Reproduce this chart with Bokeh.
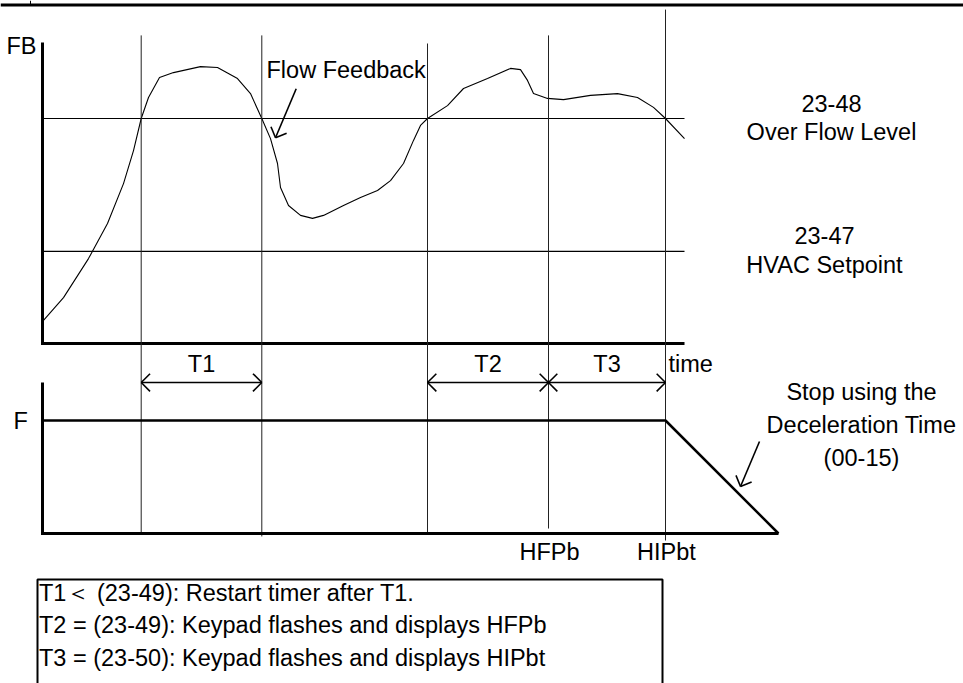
import math
from bokeh.plotting import figure
from bokeh.models import Range1d
from bokeh.core.properties import value
from bokeh.embed import file_html
from bokeh.resources import INLINE

# ---------------- data ----------------
# Flow feedback curve: time (arbitrary units) and FB (% of scale)
fb_time = [0.1, 2.1, 4.6, 6.5, 8.1, 9.1, 9.87, 10.6, 11.7, 13.1,
           15.8, 17.5, 19.5, 20.8, 21.93, 22.8, 23.5, 23.8, 24.6, 25.8,
           27.0, 28.1, 30.1, 31.8, 33.5, 34.8, 36.1, 37.1, 37.8, 38.5,
           40.5, 42.1, 44.5, 46.8, 47.8, 48.5, 49.1, 50.5, 52.1, 54.8,
           57.5, 59.5, 61.1, 62.3, 64.2]
fb_value = [7.7, 15.3, 28.3, 40.0, 53.3, 64.3, 75.0, 82.0, 88.7, 90.3,
            92.3, 92.0, 88.3, 83.3, 75.0, 68.3, 60.0, 52.0, 46.0, 42.7,
            41.7, 42.7, 46.0, 48.7, 51.0, 54.3, 60.0, 67.7, 72.7, 75.0,
            79.3, 85.0, 88.3, 91.7, 91.3, 87.7, 83.3, 81.7, 81.3, 82.7,
            83.3, 82.0, 78.7, 75.0, 68.3]

# event times: T1 start, T1 end, T2 start, HFPb, HIPbt
event_time = [9.87, 21.93, 38.5, 50.6, 62.3]
event_top_fb = [102.7, 102.7, 100.0, 102.7, 111.3]
event_bottom_f = [0.0, -2.6, 0.0, 4.4, -6.2]
stop_time = 73.6          # output reaches zero
time_axis_end = 64.2      # end of FB time axis
fb_axis_top = 100.3

over_flow_level = 75.0    # 23-48
hvac_setpoint = 30.7      # 23-47
level_labels = [("23-48", "Over Flow Level"), ("23-47", "HVAC Setpoint")]

f_run = 100.0             # output frequency F
f_axis_top = 133.6

timer_names = ["T1", "T2", "T3"]
timer_start = [0, 2, 3]   # indices into event_time
timer_end = [1, 3, 4]

marker_names = ["HFPb", "HIPbt"]
marker_event = [3, 4]

note_lines = ["T1\uff1c (23-49): Restart timer after T1.",
              "T2 = (23-49): Keypad flashes and displays HFPb",
              "T3 = (23-50): Keypad flashes and displays HIPbt"]
stop_lines = ["Stop using the", "Deceleration Time", "(00-15)"]

# ---------------- layout (picture pixels) ----------------
W, H = 963, 683
M = 0
X0, PXT = 42.0, 10.0          # time origin px, px per time unit
TY0, PXFB = 343.0, 3.0        # FB zero px, px per FB unit
BY0, PXF = 533.0, 1.13        # F zero px, px per F unit

def px_t(px): return (px - X0) / PXT
def t_px(t): return X0 + PXT * t
def py_fb(py): return (TY0 - py) / PXFB
def fb_py(v): return TY0 - PXFB * v
def f_py(v): return BY0 - PXF * v
def py_f(py): return (BY0 - py) / PXF

p = figure(width=W, height=H, output_backend="svg", toolbar_location=None,
           x_axis_type=None, y_axis_type=None,
           x_range=Range1d(px_t(M), px_t(M + W)),
           y_range=Range1d(py_fb(M + H), py_fb(M)),
           min_border=0, outline_line_color=None,
           background_fill_color="white", border_fill_color="white")
p.extra_y_ranges = {"freq": Range1d(py_f(M + H), py_f(M))}

FONT = value("Liberation Sans")
FS = "23.5px"

# header rule and its small tick
p.line([px_t(0), px_t(W)], [py_fb(4.5)] * 2, line_width=3, color="black")
p.line([px_t(30), px_t(30)], [py_fb(0), py_fb(4.5)], line_width=1, color="black")

# ---- top panel ----
p.line([0, 0], [py_fb(fb_py(0) + 1.5), fb_axis_top], line_width=3, color="black")
p.line([0, time_axis_end], [0, 0], line_width=3, color="black")
for lvl in (over_flow_level, hvac_setpoint):
    p.line([0, time_axis_end], [lvl, lvl], line_width=1.2, color="black")
p.line(fb_time, fb_value, line_width=1.1, color="black")

# event lines spanning both panels
for t, top, bot in zip(event_time, event_top_fb, event_bottom_f):
    p.line([t, t], [top, py_fb(f_py(bot))], line_width=1, color="#222222")

# ---- bottom panel ----
p.line([0, 0], [f_axis_top, py_f(BY0 + 1.5)], line_width=3, color="black", y_range_name="freq")
p.line([0, stop_time], [0, 0], line_width=3, color="black", y_range_name="freq")
p.line([0, event_time[4], stop_time], [f_run, f_run, 0], line_width=2.5,
       color="black", y_range_name="freq")

# helper for open arrow heads (computed in pixel space, drawn in FB space)
def head(tip, tail, length=12.5, ang=45):
    dx, dy = tail[0] - tip[0], tail[1] - tip[1]
    n = math.hypot(dx, dy)
    ux, uy = dx / n, dy / n
    xs, ys = [], []
    for s in (1, -1):
        a = math.radians(ang * s)
        rx = ux * math.cos(a) - uy * math.sin(a)
        ry = ux * math.sin(a) + uy * math.cos(a)
        xs.append([px_t(tip[0] + length * rx), px_t(tip[0])])
        ys.append([py_fb(tip[1] + length * ry), py_fb(tip[1])])
    return xs, ys

arrow_py = f_py(f_axis_top)
for name, i0, i1 in zip(timer_names, timer_start, timer_end):
    a, b = t_px(event_time[i0]), t_px(event_time[i1])
    p.line([event_time[i0], event_time[i1]], [py_fb(arrow_py)] * 2, line_width=1.6, color="black")
    for tip, tail in (((a, arrow_py), (b, arrow_py)), ((b, arrow_py), (a, arrow_py))):
        xs, ys = head(tip, tail, 12.5, 45)
        p.multi_line(xs, ys, line_width=1.6, color="black")
    p.text([(event_time[i0] + event_time[i1]) / 2], [py_fb(arrow_py - 19)], text=[name],
           text_font=FONT, text_font_size=FS, text_align="center", text_baseline="middle")

# labels
p.text([px_t(36)], [py_fb(45)], text=["FB"], text_font=FONT, text_font_size=FS,
       text_align="right", text_baseline="middle")
p.text([px_t(13)], [f_run], text=["F"], text_font=FONT, text_font_size=FS,
       text_align="left", text_baseline="middle", y_range_name="freq")
p.text([px_t(668)], [py_fb(arrow_py - 19)], text=["time"], text_font=FONT, text_font_size=FS,
       text_align="left", text_baseline="middle")

# Flow Feedback label + arrow
p.text([px_t(266)], [py_fb(69)], text=["Flow Feedback"], text_font=FONT, text_font_size=FS,
       text_align="left", text_baseline="middle")
fb_tail, fb_tip = (295.7, 88.3), (275.0, 137.3)
p.line([px_t(fb_tail[0]), px_t(fb_tip[0])], [py_fb(fb_tail[1]), py_fb(fb_tip[1])],
       line_width=1.6, color="black")
xs, ys = head(fb_tip, fb_tail, 12, 45)
p.multi_line(xs, ys, line_width=1.6, color="black")

# level labels
for (l1, l2), lvl, cx in zip(level_labels, (over_flow_level, hvac_setpoint), (831, 824)):
    y = fb_py(lvl)
    p.text([px_t(cx)], [py_fb(y - 15.5)], text=[l1], text_font=FONT, text_font_size=FS,
           text_align="center", text_baseline="middle")
    p.text([px_t(cx)], [py_fb(y + 13.5)], text=[l2], text_font=FONT, text_font_size=FS,
           text_align="center", text_baseline="middle")

# stop text + arrow
for k, s in enumerate(stop_lines):
    p.text([px_t(861)], [py_fb(391.7 + 33 * k)], text=[s], text_font=FONT, text_font_size=FS,
           text_align="center", text_baseline="middle")
st_tail, st_tip = (759.0, 441.0), (740.0, 486.0)
p.line([px_t(st_tail[0]), px_t(st_tip[0])], [py_fb(st_tail[1]), py_fb(st_tip[1])],
       line_width=1.6, color="black")
xs, ys = head(st_tip, st_tail, 12, 45)
p.multi_line(xs, ys, line_width=1.6, color="black")

# HFPb / HIPbt markers
for name, ei in zip(marker_names, marker_event):
    p.text([event_time[ei] + 0.1], [py_f(551)], text=[name], text_font=FONT, text_font_size=FS,
           text_align="center", text_baseline="middle", y_range_name="freq")

# notes box
bx0, bx1, by0 = 37.0, 662.0, 579.0
p.multi_line([[px_t(bx0), px_t(bx0), px_t(bx1), px_t(bx1)]],
             [[py_fb(700), py_fb(by0), py_fb(by0), py_fb(700)]], line_width=2, color="black")
for k, s in enumerate(note_lines):
    p.text([px_t(bx0 + 1.5)], [py_fb(592 + 32.5 * k)], text=[s], text_font=FONT, text_font_size=FS,
           text_align="left", text_baseline="middle")

open("out.html", "w").write(file_html(p, INLINE))
